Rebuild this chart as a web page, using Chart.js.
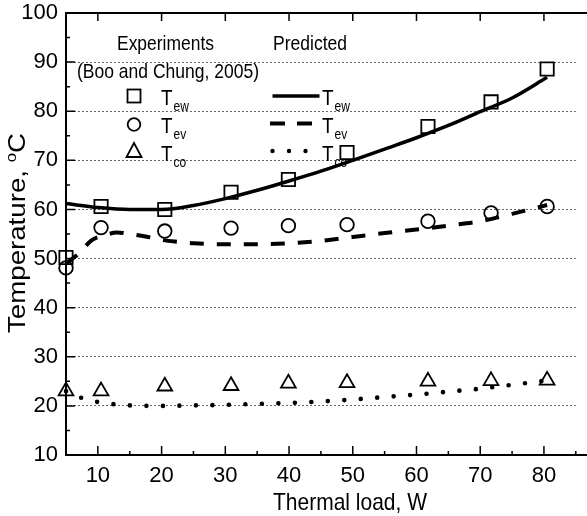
<!DOCTYPE html>
<html>
<head>
<meta charset="utf-8">
<style>
  html, body { margin: 0; padding: 0; background: #fff; }
  #wrap { width: 587px; height: 516px; }
</style>
<script src="https://cdn.jsdelivr.net/npm/chart.js"></script>
</head>
<body>
<div id="wrap"><canvas id="myChart" width="587" height="516"></canvas></div>
<script>
// measured points (Boo and Chung, 2005)
const expLoad = [5, 10.5, 20.5, 30.9, 39.9, 49.1, 61.8, 71.7, 80.5];
const expTew = [50.2, 60.6, 60.0, 63.5, 66.1, 71.6, 76.9, 81.9, 88.6];
const expTev = [48.1, 56.3, 55.6, 56.2, 56.7, 56.9, 57.6, 59.3, 60.6];
const expTco = [23.0, 23.0, 24.0, 24.1, 24.6, 24.7, 25.0, 25.1, 25.2];

// predicted curves
const predLoadEw = [5, 10, 15, 20, 25, 30, 35, 40, 45, 50, 55, 60, 65, 70, 75, 80.5];
const predTew = [61.2, 60.4, 60.0, 60.0, 60.8, 62.2, 63.9, 65.8, 67.8, 70.0, 72.3, 74.6, 77.1, 79.9, 82.7, 86.9];
const predLoadEv = [5, 7, 9, 11, 13, 15, 17.5, 20, 22.5, 25, 30, 35, 40, 45, 50, 55, 60, 65, 70, 75, 80.5];
const predTev = [49.0, 51.0, 53.7, 54.7, 55.3, 55.0, 54.5, 53.8, 53.4, 53.1, 52.9, 52.9, 53.1, 53.6, 54.4, 55.2, 55.9, 56.7, 57.6, 59.1, 60.9];
const predLoadCo = [5, 7.5, 10, 15, 20, 25, 30, 35, 40, 45, 50, 55, 60, 65, 70, 75, 80];
const predTco = [23.0, 21.6, 20.8, 20.1, 20.0, 20.1, 20.2, 20.4, 20.6, 20.9, 21.3, 21.8, 22.3, 22.9, 23.5, 24.3, 25.1];

const xTicks = [10, 20, 30, 40, 50, 60, 70, 80];
const yTicks = [10, 20, 30, 40, 50, 60, 70, 80, 90, 100];

const SANS = '"Liberation Sans", Arial, sans-serif';
Chart.defaults.font.family = '"Liberation Sans Narrow", ' + SANS;
Chart.defaults.color = '#000';

function pts(xs, ys) {
  return xs.map((x, i) => ({ x: x, y: ys[i] }));
}

// texte étiré horizontalement pour coller à la largeur voulue
function fitText(ctx, text, x, y, size, width) {
  ctx.font = size + "px " + SANS;
  const w = ctx.measureText(text).width;
  const k = width ? width / w : 0.86;
  ctx.save();
  ctx.translate(x, y);
  ctx.scale(k, 1);
  ctx.textAlign = "left";
  ctx.textBaseline = "alphabetic";
  ctx.fillText(text, 0, 0);
  ctx.restore();
  return w * k;
}

function tLabel(ctx, x, y, sub) {
  const w = fitText(ctx, "T", x, y, 22, 0);
  fitText(ctx, sub, x + w + 1, y + 6, 14, 0);
}

const decoPlugin = {
  id: "deco",
  afterDraw(chart) {
    const ctx = chart.ctx;
    const a = chart.chartArea;
    const xs = chart.scales.x;
    const ys = chart.scales.y;
    ctx.save();
    ctx.fillStyle = "#000";
    ctx.strokeStyle = "#000";

    // frame
    ctx.lineWidth = 2;
    ctx.beginPath();
    ctx.moveTo(chart.width, a.top);
    ctx.lineTo(a.left, a.top);
    ctx.lineTo(a.left, a.bottom);
    ctx.lineTo(chart.width, a.bottom);
    ctx.stroke();

    // ticks pointing inwards
    ctx.lineWidth = 1.5;
    ctx.beginPath();
    for (let v = 10; v <= 85; v += 5) {
      const px = xs.getPixelForValue(v);
      const major = v % 10 === 0;
      ctx.moveTo(px, a.bottom);
      ctx.lineTo(px, a.bottom - (major ? 9 : 4));
      if (major) {
        ctx.moveTo(px, a.top);
        ctx.lineTo(px, a.top + 8);
      }
    }
    for (let v = 15; v < 100; v += 5) {
      const py = ys.getPixelForValue(v);
      ctx.moveTo(a.left, py);
      ctx.lineTo(a.left + (v % 10 === 0 ? 9 : 4), py);
    }
    ctx.stroke();

    // axis titles
    fitText(ctx, "Thermal load, W", 273, 510, 24, 154);

    ctx.save();
    ctx.translate(25, 233);
    ctx.rotate(-Math.PI / 2);
    ctx.font = "23px " + SANS;
    const w1 = ctx.measureText("Temperature, ").width;
    ctx.font = "14px " + SANS;
    const w2 = ctx.measureText("o").width;
    ctx.font = "23px " + SANS;
    const w3 = ctx.measureText("C").width;
    const k = 200 / (w1 + w2 + w3);
    ctx.scale(k, 1);
    let x0 = -(w1 + w2 + w3) / 2;
    ctx.textBaseline = "alphabetic";
    ctx.fillText("Temperature, ", x0, 0);
    ctx.font = "14px " + SANS;
    ctx.fillText("o", x0 + w1, -9);
    ctx.font = "23px " + SANS;
    ctx.fillText("C", x0 + w1 + w2, 0);
    ctx.restore();

    // legend
    fitText(ctx, "Experiments", 117, 50, 21, 97);
    fitText(ctx, "Predicted", 273, 50, 21, 74);
    fitText(ctx, "(Boo and Chung, 2005)", 77, 78, 21, 182);

    const rows = [96, 124.5, 151];
    const base = [105, 133, 161];
    ctx.lineWidth = 1.8;
    // square
    ctx.strokeRect(127.5, rows[0] - 6.5, 13, 13);
    // circle
    ctx.beginPath();
    ctx.arc(134, rows[1], 6.3, 0, Math.PI * 2);
    ctx.stroke();
    // triangle
    ctx.beginPath();
    ctx.moveTo(134, rows[2] - 8);
    ctx.lineTo(141.5, rows[2] + 6);
    ctx.lineTo(126.5, rows[2] + 6);
    ctx.closePath();
    ctx.stroke();

    tLabel(ctx, 161, base[0], "ew");
    tLabel(ctx, 161, base[1], "ev");
    tLabel(ctx, 161, base[2], "co");

    // line samples
    ctx.lineWidth = 3.5;
    ctx.beginPath();
    ctx.moveTo(272.5, rows[0]);
    ctx.lineTo(319.5, rows[0]);
    ctx.stroke();
    ctx.lineWidth = 4;
    ctx.beginPath();
    ctx.moveTo(270, rows[1] - 1);
    ctx.lineTo(285, rows[1] - 1);
    ctx.moveTo(297, rows[1] - 1);
    ctx.lineTo(312, rows[1] - 1);
    ctx.stroke();
    [272.5, 289, 305.5].forEach((dx) => {
      ctx.beginPath();
      ctx.arc(dx, rows[2], 2.2, 0, Math.PI * 2);
      ctx.fill();
    });

    tLabel(ctx, 322, base[0], "ew");
    tLabel(ctx, 322, base[1], "ev");
    tLabel(ctx, 322, base[2], "co");

    ctx.restore();
  },
};

const markerStyle = {
  showLine: false,
  borderColor: "#000",
  backgroundColor: "rgba(0,0,0,0)",
  borderWidth: 1.8,
  clip: false,
};

const curveStyle = {
  showLine: true,
  borderColor: "#000",
  backgroundColor: "#000",
  pointRadius: 0,
  cubicInterpolationMode: "monotone",
  fill: false,
  clip: false,
};

new Chart("myChart", {
  type: "scatter",
  data: {
    datasets: [
      Object.assign({ label: "Tew predicted", data: pts(predLoadEw, predTew), borderWidth: 3.5 }, curveStyle),
      Object.assign({ label: "Tev predicted", data: pts(predLoadEv, predTev), borderWidth: 4, borderDash: [14, 13] }, curveStyle),
      Object.assign({ label: "Tco predicted", data: pts(predLoadCo, predTco), borderWidth: 4.6, borderDash: [0, 16.5], borderCapStyle: "round" }, curveStyle),
      Object.assign({ label: "Tew", data: pts(expLoad, expTew), pointStyle: "rect", pointRadius: 9.4 }, markerStyle),
      Object.assign({ label: "Tev", data: pts(expLoad, expTev), pointStyle: "circle", pointRadius: 6.8 }, markerStyle),
      Object.assign({ label: "Tco", data: pts(expLoad, expTco), pointStyle: "triangle", pointRadius: 8.5 }, markerStyle),
    ],
  },
  options: {
    responsive: false,
    animation: false,
    events: [],
    layout: { padding: { top: 13, right: 1, left: 0, bottom: 0 } },
    plugins: { legend: { display: false }, tooltip: { enabled: false } },
    scales: {
      x: {
        type: "linear",
        min: 5,
        max: 85,
        afterBuildTicks: (s) => { s.ticks = xTicks.map((v) => ({ value: v })); },
        afterFit: (s) => { s.height = 61; s.paddingLeft = 0; s.paddingRight = 0; },
        grid: { display: false, drawTicks: false },
        border: { display: false },
        ticks: { font: { size: 22 }, padding: 8, maxRotation: 0, autoSkip: false },
      },
      y: {
        min: 10,
        max: 100,
        afterBuildTicks: (s) => { s.ticks = yTicks.map((v) => ({ value: v })); },
        afterFit: (s) => { s.width = 66; s.paddingTop = 0; s.paddingBottom = 0; },
        grid: {
          drawTicks: false,
          lineWidth: 1,
          color: (c) => (c.tick && c.tick.value > 10 && c.tick.value < 100 ? "rgba(0,0,0,0.6)" : "rgba(0,0,0,0)"),
        },
        border: { display: false, dash: [2, 2] },
        ticks: { font: { size: 22 }, padding: 8, autoSkip: false },
      },
    },
  },
  plugins: [decoPlugin],
});
</script>
</body>
</html>
